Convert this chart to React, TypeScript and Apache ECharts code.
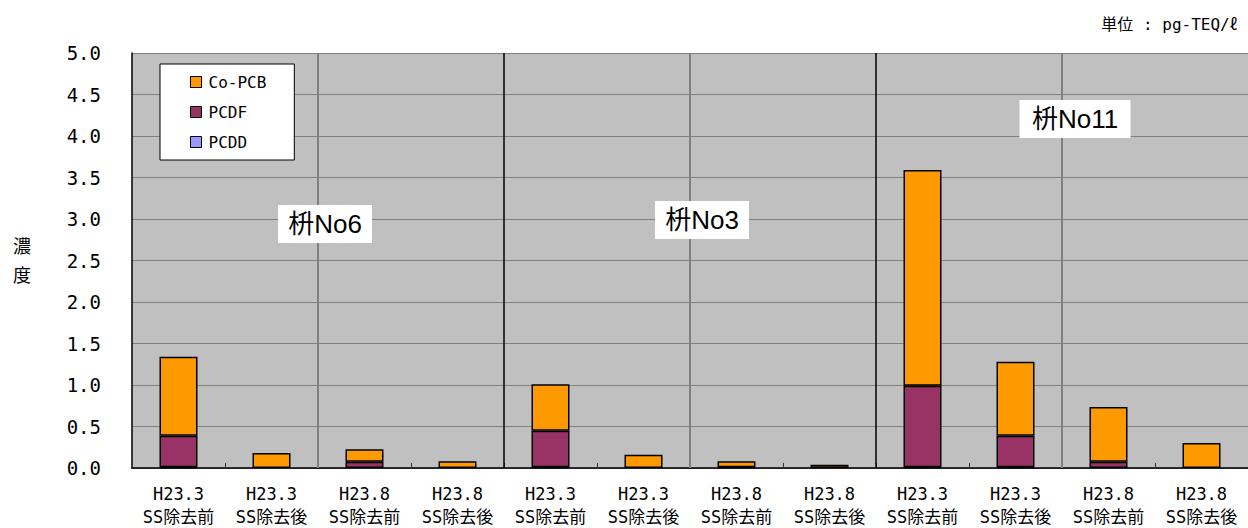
import React, { useEffect, useRef } from "react";
import * as echarts from "echarts";

// Sampling occasions and treatment stages for each catch basin (枡)
const periods = ["H23.3", "H23.3", "H23.8", "H23.8", "H23.3", "H23.3", "H23.8", "H23.8", "H23.3", "H23.3", "H23.8", "H23.8"];
const stages = ["SS除去前", "SS除去後", "SS除去前", "SS除去後", "SS除去前", "SS除去後", "SS除去前", "SS除去後", "SS除去前", "SS除去後", "SS除去前", "SS除去後"];

// Concentrations, pg-TEQ/ℓ
const pcdd = [0.01, 0, 0, 0, 0.01, 0, 0, 0, 0.01, 0.01, 0, 0];
const pcdf = [0.38, 0, 0.075, 0, 0.44, 0, 0.01, 0, 0.98, 0.38, 0.075, 0];
const coPcb = [0.95, 0.18, 0.15, 0.08, 0.56, 0.16, 0.07, 0.04, 2.6, 0.89, 0.66, 0.3];

const yTicks = [0, 0.5, 1, 1.5, 2, 2.5, 3, 3.5, 4, 4.5, 5];

// Boundaries between categories: gray between seasons, black between basins
const dividers = [
  { at: 2, color: "#808080", width: 2 },
  { at: 4, color: "#000000", width: 1.5 },
  { at: 6, color: "#808080", width: 2 },
  { at: 8, color: "#000000", width: 1.5 },
  { at: 10, color: "#808080", width: 2 },
];

const basinLabels = [
  { text: "枡No6", x: 325, y: 224, w: 94 },
  { text: "枡No3", x: 702, y: 220, w: 94 },
  { text: "枡No11", x: 1075, y: 119, w: 111 },
];

const MONO = "'DejaVu Sans Mono', 'Noto Sans CJK JP', monospace";
const SANS = "'Liberation Sans', Arial, 'Noto Sans CJK JP', sans-serif";

// Zero-valued segments are left out so they do not draw an empty outlined bar
const nonZero = (arr: number[]) => arr.map((v) => (v === 0 ? null : v));

export default function App() {
  const ref = useRef<HTMLDivElement>(null);

  useEffect(() => {
    if (!ref.current) return;
    const chart = echarts.init(ref.current, undefined, { renderer: "svg" });
    const categories = periods.map((p, i) => `${p}\n${stages[i]}`);

    const barBase = {
      type: "bar" as const,
      stack: "total",
      barWidth: 38,
      xAxisIndex: 0,
      yAxisIndex: 0,
    };

    const graphics: any[] = [];
    basinLabels.forEach((b) => {
      graphics.push({
        type: "rect",
        z: 100,
        shape: { x: b.x - b.w / 2, y: b.y - 19, width: b.w, height: 38 },
        style: { fill: "#ffffff" },
      });
      graphics.push({
        type: "text",
        z: 101,
        x: b.x,
        y: b.y,
        style: {
          text: b.text,
          font: `26px ${SANS}`,
          fill: "#000",
          textAlign: "center",
          textVerticalAlign: "middle",
        },
      });
    });
    graphics.push({
      type: "text",
      x: 22,
      y: 261,
      style: {
        text: "濃\n度",
        font: `18px ${MONO}`,
        lineHeight: 29,
        fill: "#000",
        textAlign: "center",
        textVerticalAlign: "middle",
      },
    });
    graphics.push({
      type: "text",
      x: 1237,
      y: 24,
      style: {
        text: "単位 : pg-TEQ/ℓ",
        font: `16px ${MONO}`,
        fill: "#000",
        textAlign: "right",
        textVerticalAlign: "middle",
      },
    });

    chart.setOption({
      animation: false,
      backgroundColor: "#ffffff",
      grid: {
        left: 132,
        top: 53,
        bottom: 59,
        width: 1122,
        show: true,
        backgroundColor: "#c0c0c0",
        borderWidth: 0,
      },
      legend: {
        data: ["Co-PCB", "PCDF", "PCDD"],
        orient: "vertical",
        left: 160,
        top: 64,
        width: 135,
        padding: [10, 28, 10, 30],
        itemGap: 14,
        itemWidth: 11,
        itemHeight: 11,
        icon: "rect",
        backgroundColor: "#ffffff",
        borderColor: "#000000",
        borderWidth: 1,
        itemStyle: { borderColor: "#000", borderWidth: 1 },
        textStyle: { fontFamily: MONO, fontSize: 16, color: "#000", padding: [0, 0, 0, 2] },
      },
      xAxis: [
        {
          type: "category",
          data: categories,
          axisLine: { lineStyle: { color: "#000", width: 1.5 } },
          axisTick: { show: true, inside: true, length: 5, lineStyle: { color: "#333" } },
          axisLabel: {
            fontFamily: MONO,
            fontSize: 17,
            color: "#000",
            lineHeight: 23,
            margin: 14,
            interval: 0,
          },
          splitLine: { show: false },
        },
        {
          type: "value",
          min: 0,
          max: 12,
          show: false,
        },
      ],
      yAxis: {
        type: "value",
        min: 0,
        max: 5,
        interval: 0.5,
        axisLine: { show: true, lineStyle: { color: "#000", width: 1.5 } },
        axisTick: { show: false },
        axisLabel: {
          fontFamily: MONO,
          fontSize: 19,
          color: "#000",
          margin: 31,
          formatter: (v: number) => (yTicks.includes(v) ? v.toFixed(1) : ""),
        },
        splitLine: { show: true, lineStyle: { color: "#808080", width: 1 } },
      },
      series: [
        {
          ...barBase,
          name: "PCDD",
          data: nonZero(pcdd),
          itemStyle: { color: "#9999ff", borderColor: "#000", borderWidth: 1.5 },
        },
        {
          ...barBase,
          name: "PCDF",
          data: nonZero(pcdf),
          itemStyle: { color: "#993366", borderColor: "#000", borderWidth: 1.5 },
        },
        {
          ...barBase,
          name: "Co-PCB",
          data: nonZero(coPcb),
          itemStyle: { color: "#ff9900", borderColor: "#000", borderWidth: 1.5 },
        },
        {
          type: "line",
          name: "dividers",
          xAxisIndex: 1,
          yAxisIndex: 0,
          data: [],
          silent: true,
          markLine: {
            silent: true,
            symbol: "none",
            label: { show: false },
            data: dividers.map((d) => ({
              xAxis: d.at,
              lineStyle: { color: d.color, width: d.width, type: "solid" },
            })),
          },
        },
      ],
      graphic: graphics,
    });

    return () => chart.dispose();
  }, []);

  return (
    <div
      ref={ref}
      style={{ position: "fixed", left: 0, top: 0, width: 1248, height: 528, background: "#fff" }}
    />
  );
}
